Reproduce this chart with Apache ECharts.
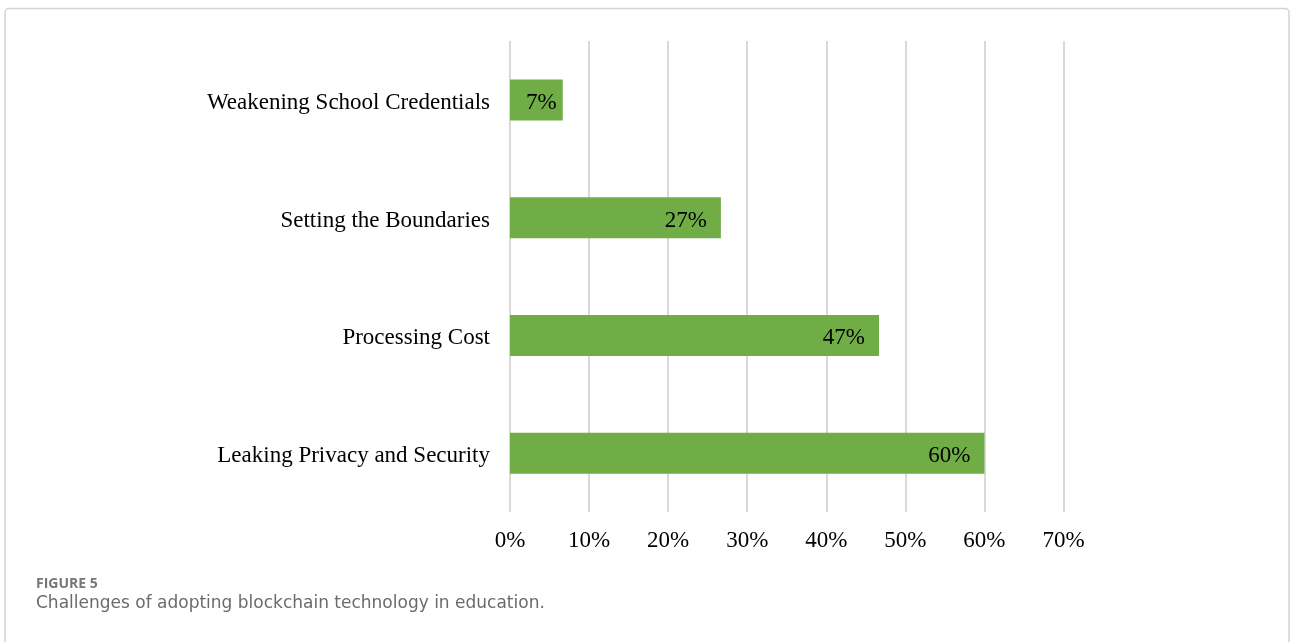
<!DOCTYPE html>
<html>
<head>
<meta charset="utf-8">
<script src="https://cdn.jsdelivr.net/npm/echarts@6/dist/echarts.min.js"></script>
<style>
  html, body { margin: 0; padding: 0; background: #fff; }
  #chart { width: 1290px; height: 642px; }
</style>
</head>
<body>
<div id="chart"></div>
<script>
  // data, bottom category first
  var categories = ['Leaking Privacy and Security', 'Processing Cost', 'Setting the Boundaries', 'Weakening School Credentials'];
  var shares = [60, 46.67, 26.67, 6.67];
  var tickLabels = ['0%', '10%', '20%', '30%', '40%', '50%', '60%', '70%'];

  var serif = '"Liberation Serif", "Times New Roman", serif';

  // short bars keep their label closer to the end
  var barData = shares.map(function (v) {
    return v < 10 ? { value: v, label: { distance: 6 } } : v;
  });

  var myChart = echarts.init(document.getElementById('chart'));
  var option = {
    animation: false,
    grid: {
      left: 510,
      right: 226.5,
      top: 41,
      bottom: 130,
      containLabel: false
    },
    xAxis: {
      type: 'value',
      min: 0,
      max: 70,
      interval: 10,
      axisLine: { show: false },
      axisTick: { show: false },
      axisLabel: {
        color: '#000',
        fontFamily: serif,
        fontSize: 23,
        margin: 17,
        formatter: function (v) { return tickLabels[Math.round(v / 10)]; }
      },
      splitLine: { lineStyle: { color: '#d9d9d9', width: 2 } }
    },
    yAxis: {
      type: 'category',
      data: categories,
      axisLine: { show: false },
      axisTick: { show: false },
      axisLabel: {
        margin: 20,
        formatter: function (v) { return '{c|' + v + '}'; },
        rich: {
          c: {
            color: '#000',
            fontFamily: serif,
            fontSize: 23,
            padding: [6, 0, 0, 0]
          }
        }
      }
    },
    series: [
      {
        type: 'bar',
        data: barData,
        barWidth: 41,
        itemStyle: { color: '#70ad47' },
        label: {
          show: true,
          position: 'insideRight',
          distance: 14,
          offset: [0, 3],
          color: '#000',
          fontFamily: serif,
          fontSize: 23,
          formatter: function (p) { return Math.round(p.value) + '%'; }
        }
      }
    ],
    graphic: [
      {
        type: 'rect',
        shape: { x: 5, y: 8.5, width: 1284, height: 700, r: 4 },
        style: { fill: null, stroke: '#d3d3d3', lineWidth: 1.5 },
        silent: true
      },
      {
        type: 'text',
        left: 36,
        top: 577,
        style: { text: 'FIGURE 5', fill: '#777', font: 'bold 14px "Open Sans", sans-serif' }
      },
      {
        type: 'text',
        left: 36,
        top: 595,
        style: { text: 'Challenges of adopting blockchain technology in education.', fill: '#6b6b6b', font: '17px "DejaVu Sans", sans-serif' }
      }
    ]
  };
  myChart.setOption(option);
  window.addEventListener('resize', function () {
    myChart.resize();
  });
</script>
</body>
</html>
